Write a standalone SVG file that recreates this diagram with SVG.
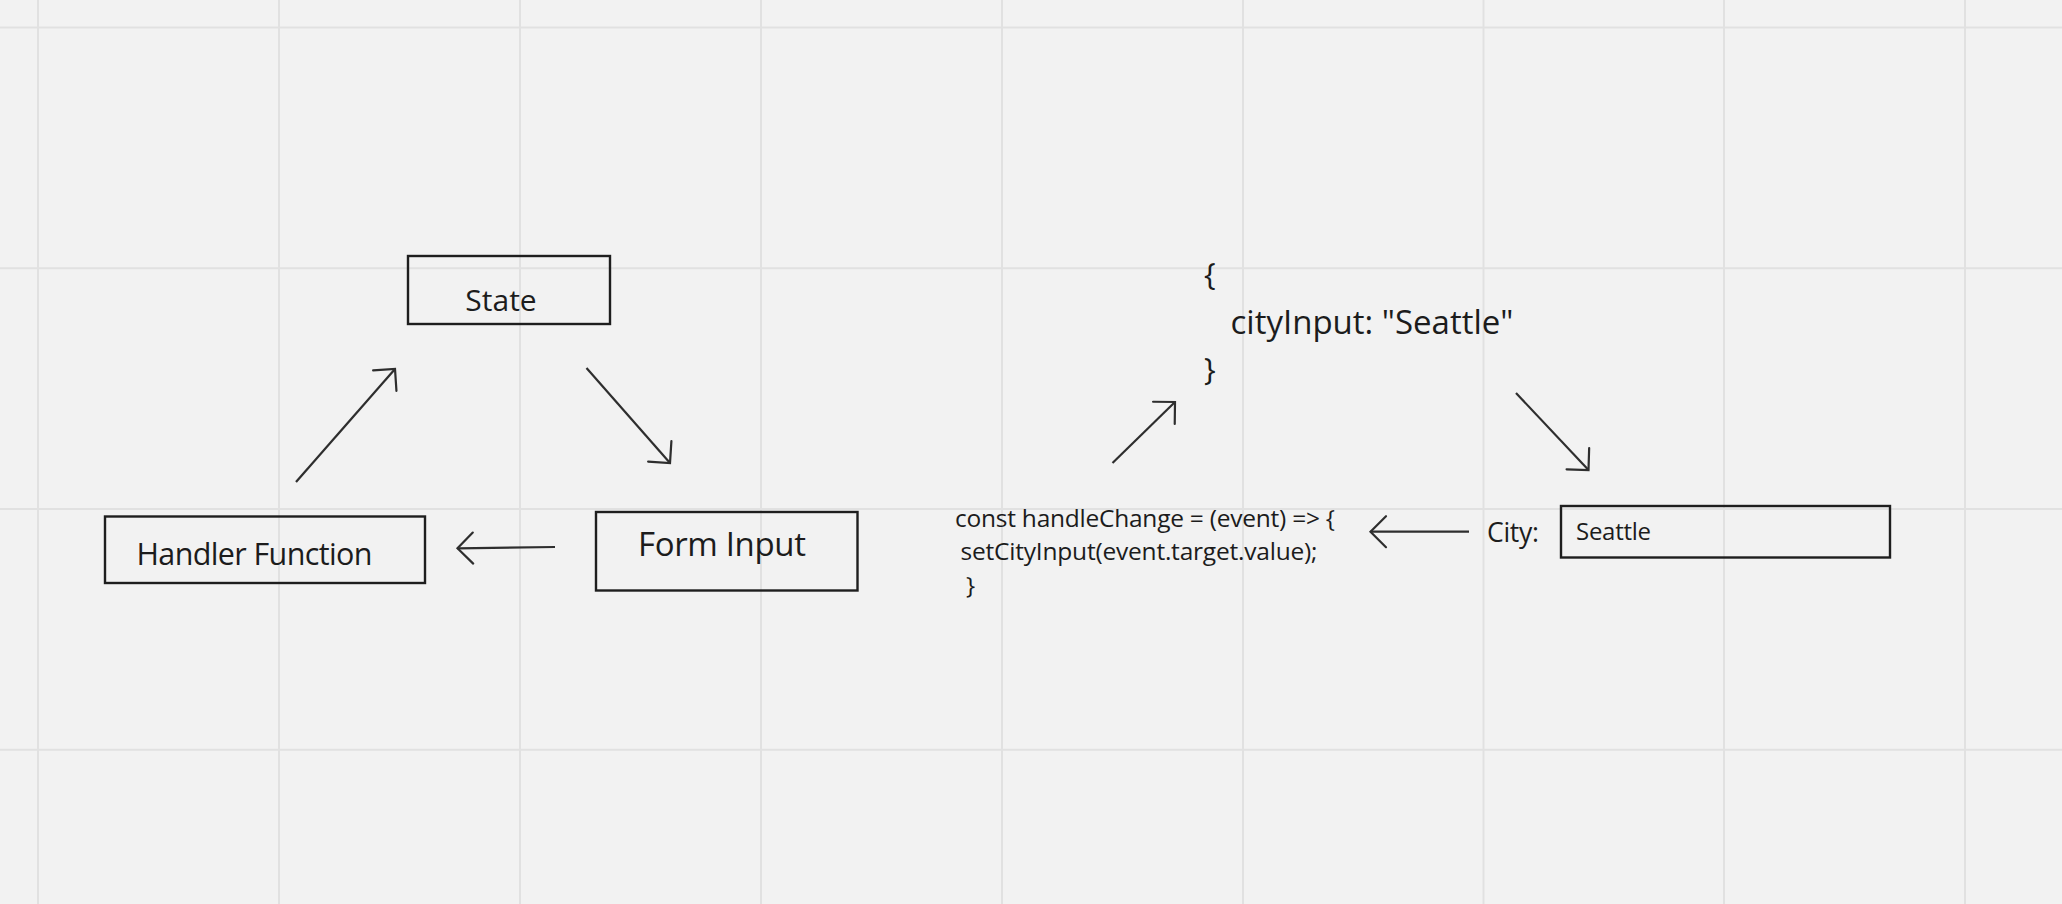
<svg xmlns="http://www.w3.org/2000/svg" width="2062" height="904" viewBox="0 0 2062 904">
  <defs>
    <style>
      .bg { fill: #f2f2f2; }
      .grid line { stroke: #e1e1e1; stroke-width: 2; }
      .box { fill: none; stroke: #1e1e1e; stroke-width: 2.4; }
      .lbl { font-family: "Open Sans", "Noto Sans", "Liberation Sans", sans-serif; fill: #1c1c1c; }
      .conn path { fill: none; stroke: #2e2e2e; stroke-width: 2.2; marker-end: url(#open); }
    </style>
    <marker id="open" markerUnits="userSpaceOnUse" viewBox="-20 -20 40 40" markerWidth="40" markerHeight="40" refX="0" refY="0" orient="auto" overflow="visible">
      <path d="M -15.5 -15.5 L 0 0 L -15.5 15.5" fill="none" stroke="#2e2e2e" stroke-width="2.2" stroke-linecap="round" stroke-linejoin="miter"/>
    </marker>
  </defs>
  <rect class="bg" x="0" y="0" width="2062" height="904"/>
  <g class="grid" id="grid">
    <line x1="38" y1="0" x2="38" y2="904"/>
    <line x1="279" y1="0" x2="279" y2="904"/>
    <line x1="520" y1="0" x2="520" y2="904"/>
    <line x1="761" y1="0" x2="761" y2="904"/>
    <line x1="1002" y1="0" x2="1002" y2="904"/>
    <line x1="1243" y1="0" x2="1243" y2="904"/>
    <line x1="1483.5" y1="0" x2="1483.5" y2="904"/>
    <line x1="1724" y1="0" x2="1724" y2="904"/>
    <line x1="1965" y1="0" x2="1965" y2="904"/>
    <line x1="0" y1="27.5" x2="2062" y2="27.5"/>
    <line x1="0" y1="268.3" x2="2062" y2="268.3"/>
    <line x1="0" y1="509" x2="2062" y2="509"/>
    <line x1="0" y1="749.7" x2="2062" y2="749.7"/>
  </g>

  <g id="node-state">
    <rect class="box" x="408" y="256" width="202" height="68"/>
    <text class="lbl" x="501" y="310.5" font-size="30" text-anchor="middle">State</text>
  </g>
  <g id="node-handler">
    <rect class="box" x="105" y="516.5" width="320" height="66.5"/>
    <text class="lbl" x="136.5" y="565" font-size="30.5" textLength="236">Handler Function</text>
  </g>
  <g id="node-form">
    <rect class="box" x="596" y="512" width="261.5" height="78.5"/>
    <text class="lbl" x="638" y="556" font-size="33" textLength="168">Form Input</text>
  </g>
  <g id="node-stateobj">
    <text class="lbl" x="1204" y="285" font-size="31">{</text>
    <text class="lbl" x="1230.5" y="334" font-size="33" textLength="283">cityInput: "Seattle"</text>
    <text class="lbl" x="1204" y="380" font-size="31">}</text>
  </g>
  <g id="node-code">
    <text class="lbl" x="955" y="526.5" font-size="24.5" textLength="380">const handleChange = (event) =&gt; {</text>
    <text class="lbl" x="960.5" y="560" font-size="24.5" textLength="357">setCityInput(event.target.value);</text>
    <text class="lbl" x="966" y="594" font-size="24.5">}</text>
  </g>
  <g id="node-city">
    <text class="lbl" x="1487" y="541.5" font-size="26.5" textLength="52">City:</text>
    <rect class="box" x="1561" y="506" width="329" height="51.5"/>
    <text class="lbl" x="1576" y="540" font-size="24" textLength="75">Seattle</text>
  </g>

  <g class="conn" id="connectors">
    <path d="M 296 482 L 395 369"/>
    <path d="M 586.5 368 L 670 463"/>
    <path d="M 555 547 L 457.5 548.3"/>
    <path d="M 1112.5 463 L 1175 402"/>
    <path d="M 1516 393 L 1588.5 470"/>
    <path d="M 1469 531.7 L 1370.5 531.7"/>
  </g>
</svg>
